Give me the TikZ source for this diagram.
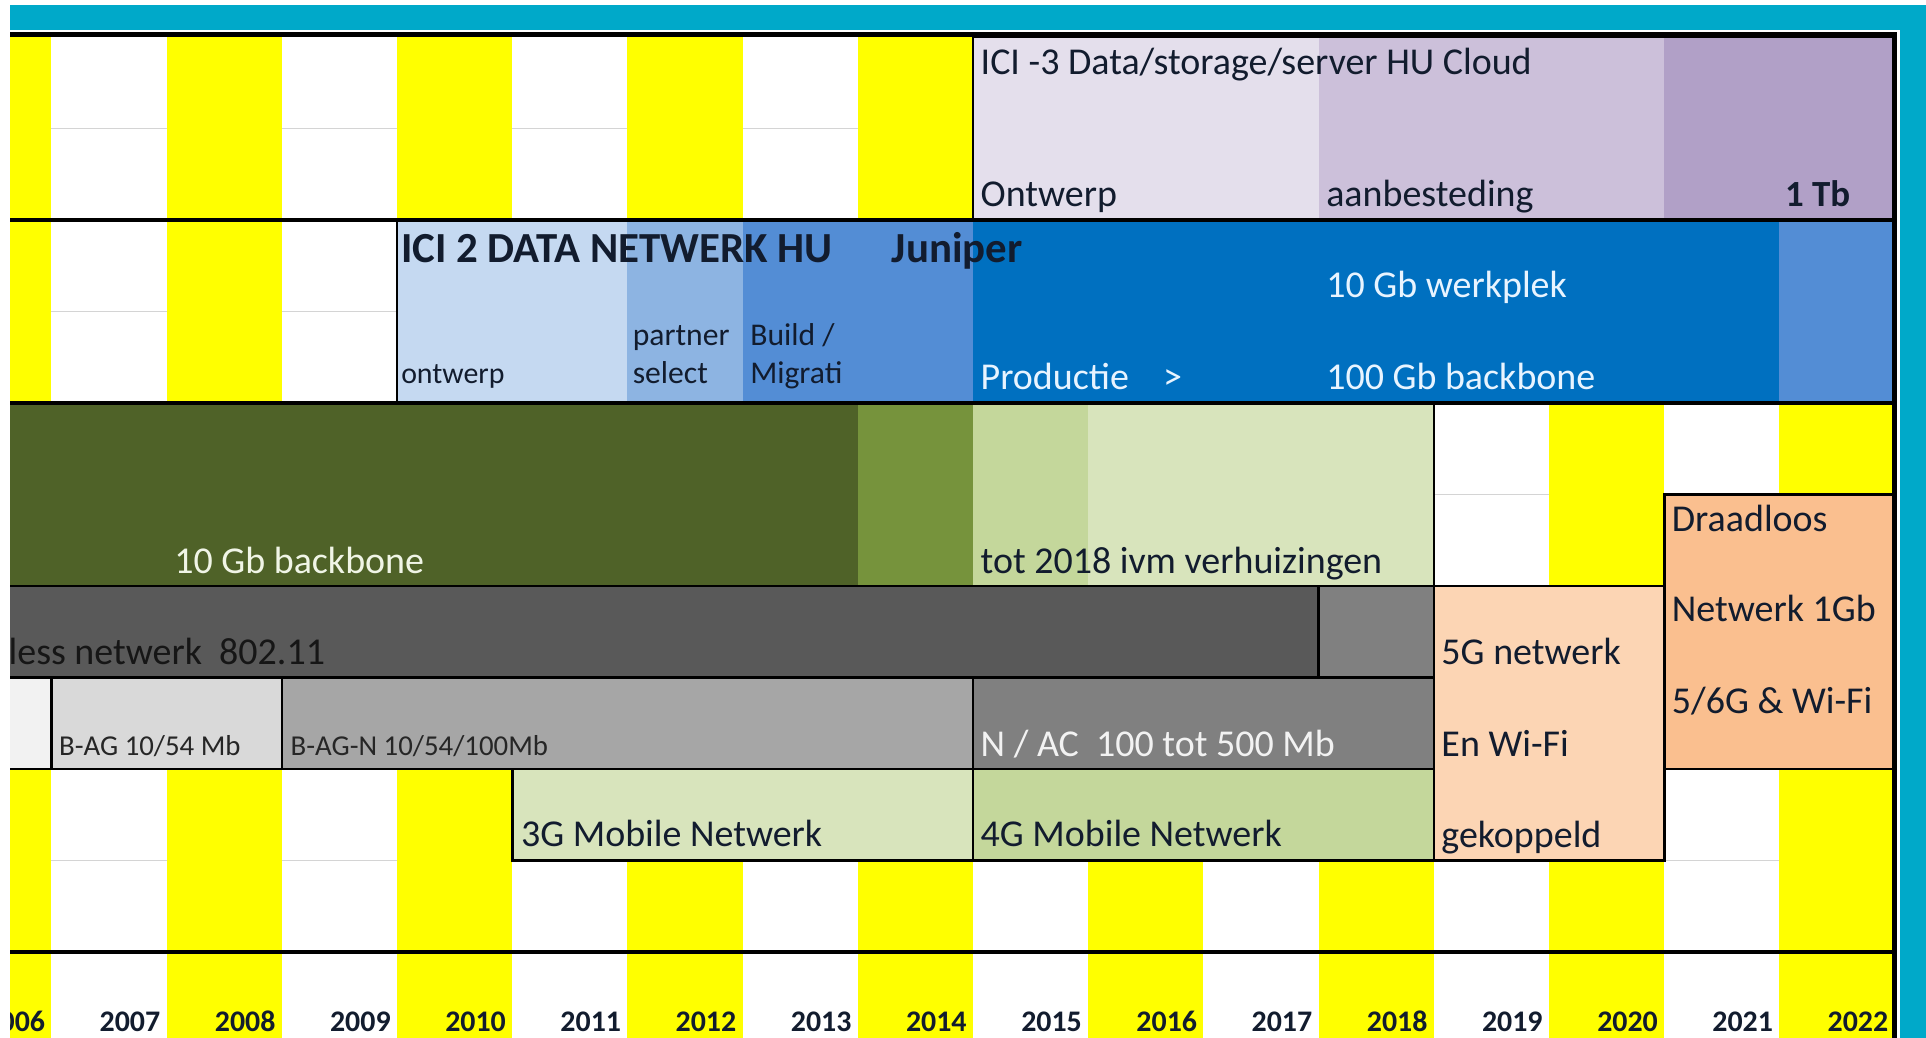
\documentclass[tikz,border=0pt]{standalone}
\usepackage{fontspec}
\setmainfont{Carlito}
\definecolor{frameTeal}{RGB}{0,169,201}
\definecolor{yearYellow}{RGB}{255,255,0}
\definecolor{gridGray}{RGB}{212,212,212}
\definecolor{ink}{RGB}{18,28,46}
\definecolor{inkGray}{RGB}{38,38,38}
\definecolor{paleText}{RGB}{232,244,255}
\definecolor{lilacA}{RGB}{228,223,236}
\definecolor{lilacB}{RGB}{204,192,218}
\definecolor{lilacC}{RGB}{177,160,199}
\definecolor{blueA}{RGB}{197,217,241}
\definecolor{blueB}{RGB}{141,180,226}
\definecolor{blueC}{RGB}{83,141,213}
\definecolor{blueD}{RGB}{0,112,192}
\definecolor{oliveA}{RGB}{79,98,40}
\definecolor{oliveB}{RGB}{118,147,60}
\definecolor{greenA}{RGB}{196,215,155}
\definecolor{greenB}{RGB}{216,228,188}
\definecolor{grayA}{RGB}{89,89,89}
\definecolor{grayB}{RGB}{128,128,128}
\definecolor{grayC}{RGB}{166,166,166}
\definecolor{grayD}{RGB}{217,217,217}
\definecolor{grayE}{RGB}{242,242,242}
\definecolor{peachA}{RGB}{252,213,180}
\definecolor{peachB}{RGB}{250,191,143}
\tikzset{
    % --- Timeline bar (filled cell block with border) ---
    bar/.style = {
        draw=black, line width=0.7pt
    },
    % --- Outline drawn over a bar split in colours ---
    bar edge/.style = {
        draw=black, line width=0.7pt
    },
    % --- Faint spreadsheet grid line ---
    gridline/.style = {
        draw=gridGray, line width=0.45pt
    },
    % --- Heavy rule across the chart ---
    heavy rule/.style = {
        draw=black, line width=0.9pt
    },
    % --- Cell text, bottom-left aligned ---
    cell/.style = {
        anchor=base west, inner sep=0pt, text=ink,
        font=\fontsize{10.8}{12}\selectfont
    },
    % --- Bold heading text ---
    cell bold/.style = {
        cell, font=\bfseries\fontsize{12.2}{14}\selectfont
    },
    % --- Smaller sub-phase text ---
    cell small/.style = {
        cell, font=\fontsize{9}{11}\selectfont
    },
    % --- Wifi standard text ---
    cell narrow/.style = {
        cell, text=inkGray, font=\fontsize{8.2}{10}\selectfont
    },
    % --- Light text on dark fill ---
    cell light/.style = {
        cell, text=paleText
    },
    % --- Year label (right aligned in column) ---
    year/.style = {
        anchor=base east, inner sep=0pt, text=ink,
        font=\bfseries\fontsize{8.5}{10}\selectfont
    }
}
\begin{document}
\begin{tikzpicture}[x=1.152cm, y=-0.915cm]
\useasboundingbox (-0.447,-0.404) rectangle (16.272,10.94);

% ---------------------------------------------------------
% Page and teal frame
% ---------------------------------------------------------
\fill[white] (-0.447,-0.404) rectangle (16.272,10.94);
\fill[frameTeal] (-0.36,-0.35) rectangle (16.272,-0.077);
\fill[frameTeal] (16.05,-0.35) rectangle (16.272,10.94);

\begin{scope}
\clip (-0.36,0) rectangle (16,10.94);

% ---------------------------------------------------------
% Year columns (even years yellow)
% ---------------------------------------------------------
\foreach \r in {1,3,5,9}
    \draw[gridline] (-1,\r) -- (16,\r);
\foreach \yr in {2006,2008,...,2022}
    \fill[yearYellow] ({\yr-2007},0) rectangle ({\yr-2006},10.94);

% ---------------------------------------------------------
% ICI 3 data / storage / server
% ---------------------------------------------------------
\fill[lilacA] (8,0) rectangle (11,2);
\fill[lilacB] (11,0) rectangle (14,2);
\fill[lilacC] (14,0) rectangle (16,2);
\draw[bar edge] (8,0) rectangle (16,2);

\node[cell] (IciThree) at (8.06,0.41) {ICI -3 Data/storage/server HU Cloud};
\node[cell] (OntwerpThree) at (8.06,1.85) {Ontwerp};
\node[cell] (Aanbesteding) at (11.06,1.85) {aanbesteding};
\node[cell, anchor=base east, font=\bfseries\fontsize{10.5}{12}\selectfont] (OneTb) at (15.62,1.85) {1 Tb};

% ---------------------------------------------------------
% ICI 2 data netwerk
% ---------------------------------------------------------
\fill[blueA] (3,2) rectangle (5,4);
\fill[blueB] (5,2) rectangle (6,4);
\fill[blueC] (6,2) rectangle (8,4);
\fill[blueD] (8,2) rectangle (15,4);
\fill[blueC] (15,2) rectangle (16,4);
\draw[bar edge] (3,2) rectangle (16,4);

\node[cell bold] (IciTwo) at (3.03,2.46) {ICI 2 DATA NETWERK HU};
\node[cell bold] (Juniper) at (7.29,2.46) {Juniper};
\node[cell, font=\fontsize{8.5}{10}\selectfont] (OntwerpTwo) at (3.03,3.79) {ontwerp};
\node[cell small] (Partner) at (5.04,3.37) {partner};
\node[cell small] (Select) at (5.04,3.79) {select};
\node[cell small] (Build) at (6.06,3.37) {Build /};
\node[cell small] (Migrati) at (6.06,3.79) {Migrati};
\node[cell light] (Productie) at (8.06,3.85) {Productie\hspace{0.9em}>};
\node[cell light] (Werkplek) at (11.06,2.85) {10 Gb werkplek};
\node[cell light] (BackboneHundred) at (11.06,3.85) {100 Gb backbone};

% ---------------------------------------------------------
% 10 Gb backbone
% ---------------------------------------------------------
\fill[oliveA] (-1,4) rectangle (7,6);
\fill[oliveB] (7,4) rectangle (8,6);
\fill[greenA] (8,4) rectangle (9,6);
\fill[greenB] (9,4) rectangle (12,6);
\draw[bar edge] (-1,4) rectangle (12,6);

\node[cell light, text={rgb,255:red,240;green,245;blue,230}] (BackboneTen) at (1.06,5.86) {10 Gb backbone};
\node[cell] (Verhuizingen) at (8.06,5.86) {tot 2018 ivm verhuizingen};

% ---------------------------------------------------------
% Wireless netwerk
% ---------------------------------------------------------
\path[bar, fill=grayA] (-1,6) rectangle (11,7);
\path[bar, fill=grayB] (11,6) rectangle (12,7);
\node[cell, anchor=base east, text={rgb,255:red,22;green,22;blue,22}] (Wireless) at (2.38,6.86) {Wireless netwerk\ \ 802.11};

% ---------------------------------------------------------
% Wifi standards
% ---------------------------------------------------------
\path[bar, fill=grayE] (-1,7) rectangle (0,8);
\path[bar, fill=grayD] (0,7) rectangle (2,8);
\path[bar, fill=grayC] (2,7) rectangle (8,8);
\path[bar, fill=grayB] (8,7) rectangle (12,8);
\node[cell narrow] (Bag) at (0.06,7.85) {B-AG 10/54 Mb};
\node[cell narrow] (Bagn) at (2.07,7.85) {B-AG-N 10/54/100Mb};
\node[cell light, text={rgb,255:red,242;green,242;blue,242}] (NAc) at (8.06,7.86) {N / AC\ \ 100 tot 500 Mb};

% ---------------------------------------------------------
% Mobile netwerk
% ---------------------------------------------------------
\path[bar, fill=greenB] (4,8) rectangle (8,9);
\path[bar, fill=greenA] (8,8) rectangle (12,9);
\node[cell] (ThreeG) at (4.07,8.85) {3G Mobile Netwerk};
\node[cell] (FourG) at (8.06,8.85) {4G Mobile Netwerk};

% ---------------------------------------------------------
% 5G and draadloos
% ---------------------------------------------------------
\path[bar, fill=peachA] (12,6) rectangle (14,9);
\node[cell] (FiveG) at (12.06,6.86) {5G netwerk};
\node[cell] (EnWifi) at (12.06,7.86) {En Wi-Fi};
\node[cell] (Gekoppeld) at (12.06,8.86) {gekoppeld};

\path[bar, fill=peachB] (14,5) rectangle (16,8);
\node[cell] (Draadloos) at (14.06,5.41) {Draadloos};
\node[cell] (NetwerkGb) at (14.06,6.39) {Netwerk 1Gb};
\node[cell] (SixG) at (14.06,7.39) {5/6G \& Wi-Fi};

% ---------------------------------------------------------
% Rules and year labels
% ---------------------------------------------------------
\draw[heavy rule] (-1,2) -- (16,2);
\draw[heavy rule] (-1,4) -- (16,4);
\draw[heavy rule] (-1,10) -- (16,10);
\foreach \yr in {2006,...,2022}
    \node[year] (Y\yr) at ({\yr-2006-0.05},10.87) {\yr};
\end{scope}

% ---------------------------------------------------------
% Outer border
% ---------------------------------------------------------
\draw[black, line width=1.4pt] (-0.36,-0.03) -- (16,-0.03) -- (16,10.94);

\end{tikzpicture}
\end{document}
